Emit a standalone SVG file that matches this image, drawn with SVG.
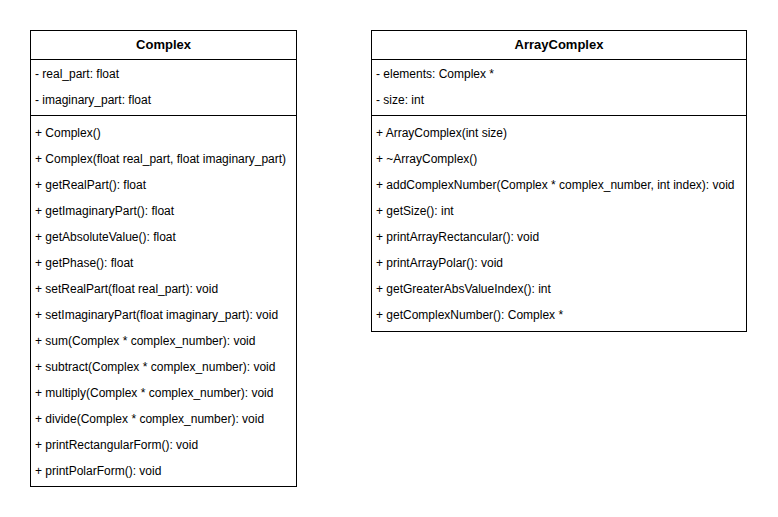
<svg xmlns="http://www.w3.org/2000/svg" width="778" height="517" viewBox="0 0 778 517">
<style>
.box{fill:#fff;stroke:#000;stroke-width:1}
.ln{stroke:#000;stroke-width:1}
.t{font-family:"Liberation Sans",Arial,sans-serif;font-size:12px;fill:#000}
.h{font-family:"Liberation Sans",Arial,sans-serif;font-size:13px;font-weight:bold;fill:#000;text-anchor:middle}
</style>
<rect width="778" height="517" fill="#fff"/>
<g id="Complex">
<rect class="box" x="30.5" y="30.5" width="266" height="456"/>
<line class="ln" x1="30.5" y1="59.5" x2="296.5" y2="59.5"/>
<line class="ln" x1="30.5" y1="115.5" x2="296.5" y2="115.5"/>
<text class="h" x="163.5" y="49">Complex</text>
<text class="t" x="35" y="77.5">- real_part: float</text>
<text class="t" x="35" y="103.5">- imaginary_part: float</text>
<text class="t" x="35" y="136.5">+ Complex()</text>
<text class="t" x="35" y="162.5">+ Complex(float real_part, float imaginary_part)</text>
<text class="t" x="35" y="188.5">+ getRealPart(): float</text>
<text class="t" x="35" y="214.5">+ getImaginaryPart(): float</text>
<text class="t" x="35" y="240.5">+ getAbsoluteValue(): float</text>
<text class="t" x="35" y="266.5">+ getPhase(): float</text>
<text class="t" x="35" y="292.5">+ setRealPart(float real_part): void</text>
<text class="t" x="35" y="318.5">+ setImaginaryPart(float imaginary_part): void</text>
<text class="t" x="35" y="344.5">+ sum(Complex * complex_number): void</text>
<text class="t" x="35" y="370.5">+ subtract(Complex * complex_number): void</text>
<text class="t" x="35" y="396.5">+ multiply(Complex * complex_number): void</text>
<text class="t" x="35" y="422.5">+ divide(Complex * complex_number): void</text>
<text class="t" x="35" y="448.5">+ printRectangularForm(): void</text>
<text class="t" x="35" y="474.5">+ printPolarForm(): void</text>
</g>
<g id="ArrayComplex">
<rect class="box" x="371.5" y="30.5" width="375" height="301"/>
<line class="ln" x1="371.5" y1="59.5" x2="746.5" y2="59.5"/>
<line class="ln" x1="371.5" y1="115.5" x2="746.5" y2="115.5"/>
<text class="h" x="559" y="49">ArrayComplex</text>
<text class="t" x="376" y="77.5">- elements: Complex *</text>
<text class="t" x="376" y="103.5">- size: int</text>
<text class="t" x="376" y="136.5">+ ArrayComplex(int size)</text>
<text class="t" x="376" y="162.5">+ ~ArrayComplex()</text>
<text class="t" x="376" y="188.5">+ addComplexNumber(Complex * complex_number, int index): void</text>
<text class="t" x="376" y="214.5">+ getSize(): int</text>
<text class="t" x="376" y="240.5">+ printArrayRectancular(): void</text>
<text class="t" x="376" y="266.5">+ printArrayPolar(): void</text>
<text class="t" x="376" y="292.5">+ getGreaterAbsValueIndex(): int</text>
<text class="t" x="376" y="318.5">+ getComplexNumber(): Complex *</text>
</g>
<g id="connectors"></g>
</svg>
